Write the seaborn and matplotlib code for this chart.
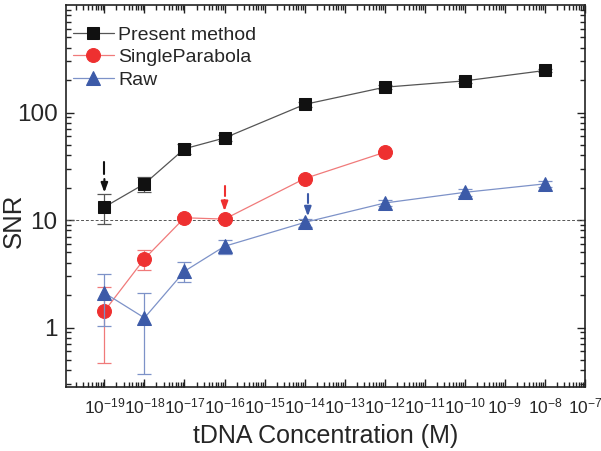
import numpy as np
import matplotlib
matplotlib.use('Agg')
import matplotlib.pyplot as plt
import seaborn as sns
from matplotlib.ticker import FixedLocator, LogLocator, NullFormatter, LogFormatterSciNotation

# values
conc_present = [1e-19, 1e-18, 1e-17, 1e-16, 1e-14, 1e-12, 1e-10, 1e-8]
snr_present = [13.2, 21.7, 46, 58, 119, 172, 197, 246]
err_present = [4.1, 3.6, 5, 4, 6, 8, 8, 10]

conc_parab = [1e-19, 1e-18, 1e-17, 1e-16, 1e-14, 1e-12]
snr_parab = [1.42, 4.36, 10.5, 10.2, 24.3, 42.7]
err_parab = [0.95, 0.9, 0.4, 0.4, 0.8, 1.0]

conc_raw = [1e-19, 1e-18, 1e-17, 1e-16, 1e-14, 1e-12, 1e-10, 1e-8]
snr_raw = [2.1, 1.23, 3.34, 5.7, 9.5, 14.4, 18.1, 21.7]
err_raw = [1.06, 0.86, 0.7, 0.85, 0.8, 1.0, 1.2, 1.3]

threshold = 10

# detection-limit arrows: x, top of dash, tip
arrow_x = [1e-19, 1e-16, 1.2e-14]
arrow_top = [34.3, 20.6, 17.3]
arrow_tip = [18.0, 12.1, 10.8]
arrow_col = ['#111111', '#ee3030', '#3c5aa8']

xtick_exp = list(range(-19, -6))
ytick_vals = [1, 10, 100]

sns.set_style('ticks')
plt.rcParams['font.family'] = ['Liberation Sans', 'DejaVu Sans']
plt.rcParams['mathtext.fontset'] = 'custom'
plt.rcParams['mathtext.rm'] = 'Liberation Sans'
plt.rcParams['mathtext.default'] = 'regular'

fig = plt.figure(figsize=(6.01, 4.51), dpi=100)
ax = fig.add_axes([66 / 601, 64 / 451, 519 / 601, 382 / 451])
ax.set_xscale('log')
ax.set_yscale('log')

series = [
    (conc_present, snr_present, err_present, 'Present method', 's', 9, '#111111', '#555555'),
    (conc_parab, snr_parab, err_parab, 'SingleParabola', 'o', 10, '#ee3030', '#f07a7a'),
    (conc_raw, snr_raw, err_raw, 'Raw', '^', 10, '#3c5aa8', '#7d92c8'),
]
for x, y, e, lab, mk, ms, mc, lc in series:
    ax.errorbar(x, y, yerr=e, fmt='none', ecolor=lc, elinewidth=0.9, capsize=5, capthick=0.9)
    sns.lineplot(x=x, y=y, ax=ax, color=lc, linewidth=0.9, marker=mk, markersize=ms,
                 markerfacecolor=mc, markeredgecolor=mc, label=lab, sort=False, errorbar=None)

ax.axhline(threshold, color='#555555', ls=(0, (3, 2)), lw=0.7, zorder=1)

# dashed arrows: short dash, gap, then arrow with head
for xa, yt, yp, c in zip(arrow_x, arrow_top, arrow_tip, arrow_col):
    lt, lp = np.log10(yt), np.log10(yp)
    y_dash_end = 10 ** (lt + 0.38 * (lp - lt))
    y_arrow_start = 10 ** (lt + 0.55 * (lp - lt))
    ax.plot([xa, xa], [yt, y_dash_end], color=c, lw=1.5)
    ax.annotate('', xy=(xa, yp), xytext=(xa, y_arrow_start),
                arrowprops=dict(arrowstyle='-|>,head_length=0.55,head_width=0.2',
                                color=c, lw=1.5, shrinkA=0, shrinkB=0))

ax.set_xlim(1.1e-20, 1e-7)
ax.set_ylim(0.28, 1000)
ax.xaxis.set_major_locator(FixedLocator([10.0 ** k for k in xtick_exp]))
ax.xaxis.set_major_formatter(LogFormatterSciNotation())
ax.xaxis.set_minor_locator(LogLocator(base=10, subs=np.arange(2, 10), numticks=40))
ax.xaxis.set_minor_formatter(NullFormatter())
ax.yaxis.set_major_locator(FixedLocator(ytick_vals))
ax.set_yticklabels([str(v) for v in ytick_vals])
ax.yaxis.set_minor_locator(LogLocator(base=10, subs=np.arange(2, 10), numticks=40))
ax.yaxis.set_minor_formatter(NullFormatter())

ax.tick_params(which='both', direction='in', top=True, right=True, width=1, color='#222222')
ax.tick_params(which='major', length=6)
ax.tick_params(which='minor', length=3.5)
ax.tick_params(axis='x', labelsize=12.5, pad=7)
ax.tick_params(axis='y', labelsize=17.5, pad=6)
for s in ax.spines.values():
    s.set_linewidth(1.2)
    s.set_color('#222222')

ax.set_xlabel('tDNA Concentration (M)', fontsize=18, labelpad=5)
ax.set_ylabel('SNR', fontsize=18.5)
ax.yaxis.set_label_coords(-0.077, 0.435)

ax.legend(loc='upper left', bbox_to_anchor=(-0.002, 0.965), frameon=False, fontsize=14,
          handlelength=2.1, handletextpad=0.25, labelspacing=0.25, borderaxespad=0)

fig.savefig('out.png', dpi=100)
